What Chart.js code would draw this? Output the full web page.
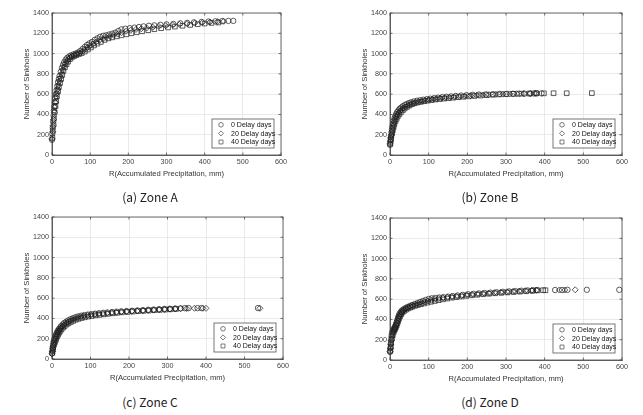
<!DOCTYPE html>
<html>
<head>
<meta charset="utf-8">
<script src="https://cdn.jsdelivr.net/npm/chart.js@4.4.1/dist/chart.umd.min.js"></script>
<style>
  html, body { margin: 0; padding: 0; background: #fff; overflow: hidden; }
  body { width: 643px; height: 415px; position: relative; }
  canvas { position: absolute; }
  .cap { position: absolute; width: 120px; margin-left: -60px; text-align: center;
         font: 12px "Noto Sans CJK KR", "Noto Sans", sans-serif; color: #222; line-height: 14px; }
</style>
</head>
<body>
<canvas id="zoneA"></canvas>
<canvas id="zoneB"></canvas>
<canvas id="zoneC"></canvas>
<canvas id="zoneD"></canvas>
<div class="cap" style="left:150px; top:190px;">(a) Zone A</div>
<div class="cap" style="left:490px; top:190px;">(b) Zone B</div>
<div class="cap" style="left:150px; top:395px;">(c) Zone C</div>
<div class="cap" style="left:490px; top:395px;">(d) Zone D</div>
<script>
// Series labels and axis ticks
const seriesLabels = ['0 Delay days', '20 Delay days', '40 Delay days'];
const xTicks = [0, 100, 200, 300, 400, 500, 600];
const yTicks = [0, 200, 400, 600, 800, 1000, 1200, 1400];

// Zone A  [R (mm), number of sinkholes]
const zoneA_d0 = [[0,150],[1,210],[2,270],[3,330],[4,390],[5,440],[6,480],[7,520],[8,560],[10,600],[12,640],[14,680],[16,720],[18,750],[20,780],[23,820],[26,860],[29,890],[32,915],[36,940],[40,958],[45,972],[50,982],[56,992],[62,1000],[68,1010],[74,1025],[80,1045],[86,1065],[92,1085],[98,1100],[105,1115],[112,1135],[119,1150],[126,1165],[134,1175],[142,1180],[150,1188],[158,1196],[166,1206],[174,1222],[182,1238],[192,1245],[204,1250],[216,1256],[228,1262],[240,1268],[254,1274],[268,1278],[284,1284],[300,1288],[318,1292],[336,1298],[354,1303],[372,1308],[392,1312],[410,1316],[428,1318],[446,1320],[462,1322],[475,1322]];
const zoneA_d20 = [[0,160],[2,230],[3,290],[4,350],[6,420],[7,470],[9,520],[11,570],[13,610],[15,650],[17,690],[20,730],[22,765],[25,800],[28,840],[31,870],[35,900],[39,925],[43,945],[48,962],[53,975],[59,985],[65,995],[72,1005],[79,1020],[86,1040],[93,1060],[100,1078],[108,1095],[116,1115],[124,1130],[133,1145],[142,1160],[152,1170],[162,1180],[172,1192],[182,1205],[194,1220],[206,1230],[220,1238],[234,1245],[248,1252],[264,1260],[280,1268],[298,1275],[316,1282],[334,1288],[354,1294],[374,1300],[394,1306],[414,1311],[434,1315],[450,1318]];
const zoneA_d40 = [[1,170],[2,240],[4,300],[5,360],[7,420],[9,480],[11,530],[13,580],[16,630],[18,670],[21,710],[24,750],[27,790],[30,830],[34,865],[38,895],[42,920],[47,945],[52,962],[58,975],[64,985],[71,995],[78,1005],[86,1020],[94,1040],[102,1060],[110,1080],[119,1098],[128,1115],[138,1135],[148,1150],[158,1160],[170,1170],[182,1180],[195,1190],[208,1200],[222,1210],[236,1220],[252,1230],[268,1240],[286,1250],[304,1258],[322,1266],[342,1274],[362,1282],[382,1290],[400,1296],[418,1302],[436,1306]];

// Zone B
const zoneB_d0 = [[0,100],[1,130],[2,160],[3,190],[4,220],[5,250],[6,280],[8,310],[10,340],[12,365],[14,385],[16,405],[19,425],[22,440],[25,455],[29,468],[33,480],[38,492],[43,502],[49,512],[55,520],[62,528],[70,535],[78,540],[86,545],[95,550],[104,555],[114,560],[124,565],[135,570],[146,574],[158,578],[170,582],[184,586],[198,590],[214,593],[230,596],[248,598],[266,600],[284,602],[302,603],[318,604],[334,604],[348,605],[362,606],[372,607],[380,608],[392,608]];
const zoneB_d20 = [[0,110],[1,140],[2,170],[4,200],[5,235],[7,265],[9,295],[11,325],[13,350],[16,375],[19,395],[22,415],[26,432],[30,448],[35,462],[40,475],[46,488],[52,498],[59,508],[66,517],[74,525],[82,532],[91,538],[100,544],[110,549],[120,554],[131,559],[142,564],[154,568],[166,573],[179,577],[193,581],[208,585],[224,589],[240,592],[256,595],[274,598],[292,600],[310,602],[328,604],[346,605],[364,606],[376,608]];
const zoneB_d40 = [[1,110],[2,150],[3,180],[5,210],[7,240],[9,270],[11,300],[14,330],[17,355],[20,380],[24,400],[28,420],[33,440],[38,458],[44,474],[50,488],[57,500],[64,510],[72,518],[80,524],[89,530],[98,536],[108,542],[118,547],[129,552],[140,556],[152,560],[164,565],[177,570],[190,574],[204,578],[218,582],[234,586],[250,590],[266,594],[282,597],[300,600],[320,603],[340,605],[360,606],[378,608],[398,608],[423,609],[457,609],[522,610]];

// Zone C
const zoneC_d0 = [[0,55],[1,80],[2,110],[3,140],[4,165],[5,185],[7,205],[9,225],[11,245],[13,262],[15,278],[18,295],[21,310],[24,325],[28,340],[32,355],[37,368],[42,380],[48,392],[54,402],[61,412],[68,420],[76,427],[84,433],[93,438],[102,443],[112,447],[122,451],[133,455],[144,459],[156,463],[168,467],[180,470],[194,473],[208,476],[222,479],[236,482],[250,485],[264,488],[278,491],[292,494],[306,496],[320,498],[334,500],[345,501],[355,502],[378,502],[388,502],[535,502]];
const zoneC_d20 = [[0,50],[1,75],[2,100],[3,125],[5,150],[6,175],[8,195],[10,215],[12,235],[15,255],[17,272],[20,290],[23,305],[27,320],[31,335],[36,350],[41,363],[47,376],[53,388],[60,398],[67,408],[75,416],[83,423],[92,429],[101,435],[111,440],[121,444],[132,448],[143,452],[155,456],[167,460],[180,464],[193,467],[207,470],[221,473],[236,476],[250,479],[264,482],[278,485],[292,488],[306,491],[320,494],[334,496],[350,498],[370,500],[392,500],[400,500],[540,500]];
const zoneC_d40 = [[1,60],[2,90],[3,115],[5,140],[7,160],[9,180],[11,200],[13,220],[16,240],[19,260],[22,278],[25,295],[29,310],[33,325],[38,340],[43,352],[49,365],[55,376],[62,387],[69,396],[77,404],[85,411],[94,418],[103,424],[113,430],[123,435],[134,440],[145,445],[157,450],[169,455],[182,460],[196,464],[210,468],[224,472],[238,475],[252,478],[266,481],[280,484],[294,487],[308,490],[322,493]];

// Zone D
const zoneD_d0 = [[0,80],[1,120],[2,160],[3,200],[4,235],[5,262],[7,285],[9,300],[11,315],[13,330],[15,350],[17,370],[19,395],[21,420],[23,440],[25,458],[28,475],[31,488],[35,500],[40,512],[45,522],[51,532],[57,542],[64,552],[71,562],[78,572],[85,582],[92,592],[100,602],[108,608],[117,612],[127,616],[138,620],[150,625],[162,630],[175,636],[188,642],[202,648],[216,652],[230,656],[245,660],[260,664],[276,668],[292,672],[308,676],[324,680],[340,683],[356,686],[370,688],[380,690],[427,690],[445,690],[459,692],[509,692],[593,692]];
const zoneD_d20 = [[0,85],[1,110],[2,150],[3,190],[5,225],[6,255],[8,278],[10,295],[12,310],[14,325],[16,345],[18,365],[20,388],[22,412],[24,432],[27,452],[30,470],[33,484],[37,496],[42,508],[48,518],[54,528],[60,537],[67,546],[74,555],[82,564],[90,573],[98,582],[107,590],[116,598],[126,605],[137,612],[148,618],[160,624],[172,630],[185,636],[198,642],[212,647],[226,652],[240,656],[255,660],[270,664],[286,668],[302,672],[318,676],[334,680],[350,683],[366,686],[378,688],[438,690],[452,690],[479,692]];
const zoneD_d40 = [[1,90],[2,130],[3,170],[5,210],[7,245],[9,270],[11,290],[13,305],[15,320],[17,340],[19,360],[21,382],[23,405],[26,428],[29,450],[32,468],[36,482],[41,495],[46,506],[52,516],[58,525],[65,534],[72,542],[80,550],[88,558],[97,566],[106,574],[116,582],[126,590],[137,598],[148,606],[160,614],[172,620],[185,626],[198,632],[212,638],[226,643],[241,648],[256,653],[272,658],[288,662],[304,666],[320,670],[336,674],[352,678],[368,682],[382,686],[396,688],[402,688]];

// Panel geometry: plot-area left/top/width/height on the page
const panels = [
    { id: 'zoneA', left: 52, top: 13, w: 229, h: 142, series: [zoneA_d0, zoneA_d20, zoneA_d40] },
    { id: 'zoneB', left: 390, top: 13, w: 232, h: 142, series: [zoneB_d0, zoneB_d20, zoneB_d40] },
    { id: 'zoneC', left: 52, top: 217, w: 231, h: 142, series: [zoneC_d0, zoneC_d20, zoneC_d40] },
    { id: 'zoneD', left: 390, top: 218, w: 232, h: 142, series: [zoneD_d0, zoneD_d20, zoneD_d40] }
];

const yAxisW = 34, xAxisH = 30, padTop = 13, padRight = 20;
const markColor = 'rgba(30,30,30,0.9)';
const markers = [
    { style: 'circle', radius: 2.7 },
    { style: 'rectRot', radius: 3.0 },
    { style: 'rect', radius: 3.3 }
];
const tickFont = { family: 'Liberation Sans, Arial, sans-serif', size: 7.2 };
const titleFont = { family: 'Liberation Sans, Arial, sans-serif', size: 7.6 };

function drawMarker(ctx, style, radius, x, y) {
    if (Chart.helpers && Chart.helpers.drawPoint) {
        Chart.helpers.drawPoint(ctx, { pointStyle: style, radius: radius, rotation: 0, borderWidth: 0.8 }, x, y);
        return;
    }
    ctx.beginPath();
    ctx.arc(x, y, radius, 0, Math.PI * 2);
    ctx.stroke();
}

// MATLAB-like box, inward ticks and legend inside the plot area
const boxPlugin = {
    id: 'boxPlugin',
    afterDraw(chart) {
        const ctx = chart.ctx;
        const a = chart.chartArea;
        const xs = chart.scales.x, ys = chart.scales.y;
        ctx.save();
        ctx.strokeStyle = '#4a4a4a';
        ctx.lineWidth = 0.8;
        ctx.strokeRect(a.left, a.top, a.right - a.left, a.bottom - a.top);
        ctx.beginPath();
        xTicks.forEach(v => {
            const px = xs.getPixelForValue(v);
            ctx.moveTo(px, a.bottom); ctx.lineTo(px, a.bottom - 2.5);
            ctx.moveTo(px, a.top); ctx.lineTo(px, a.top + 2.5);
        });
        yTicks.forEach(v => {
            const py = ys.getPixelForValue(v);
            ctx.moveTo(a.left, py); ctx.lineTo(a.left + 2.5, py);
            ctx.moveTo(a.right, py); ctx.lineTo(a.right - 2.5, py);
        });
        ctx.stroke();

        // legend
        const lw = 62, lh = 29;
        const lx = a.right - 7 - lw, ly = a.bottom - 7 - lh;
        ctx.fillStyle = '#fff';
        ctx.fillRect(lx, ly, lw, lh);
        ctx.strokeStyle = '#555';
        ctx.strokeRect(lx, ly, lw, lh);
        ctx.font = '7px "Liberation Sans", Arial, sans-serif';
        ctx.textBaseline = 'middle';
        chart.data.datasets.forEach((ds, i) => {
            const ry = ly + 5.8 + i * 8.6;
            ctx.strokeStyle = '#444';
            ctx.lineWidth = 0.7;
            ctx.fillStyle = 'rgba(0,0,0,0)';
            drawMarker(ctx, markers[i].style, markers[i].radius * 0.85, lx + 9, ry);
            ctx.fillStyle = '#111';
            ctx.fillText(ds.label, lx + 19, ry + 0.5);
        });
        ctx.restore();
    }
};

panels.forEach(p => {
    const canvas = document.getElementById(p.id);
    const cw = yAxisW + p.w + padRight;
    const ch = padTop + p.h + xAxisH;
    canvas.width = cw;
    canvas.height = ch;
    canvas.style.left = (p.left - yAxisW) + 'px';
    canvas.style.top = (p.top - padTop) + 'px';
    canvas.style.width = cw + 'px';
    canvas.style.height = ch + 'px';

    const datasets = p.series.map((pts, i) => ({
        label: seriesLabels[i],
        data: pts.map(pt => ({ x: pt[0], y: pt[1] })),
        pointStyle: markers[i].style,
        pointRadius: markers[i].radius,
        pointBorderWidth: 0.8,
        pointBorderColor: markColor,
        pointBackgroundColor: 'rgba(0,0,0,0)',
        showLine: false,
        clip: false
    }));

    new Chart(canvas.getContext('2d'), {
        type: 'scatter',
        data: { datasets: datasets },
        options: {
            responsive: false,
            animation: false,
            events: [],
            layout: { padding: { left: 0, top: padTop, right: padRight, bottom: 0 } },
            plugins: {
                legend: { display: false },
                tooltip: { enabled: false }
            },
            scales: {
                x: {
                    type: 'linear',
                    min: 0,
                    max: 600,
                    afterFit: s => { s.height = xAxisH; },
                    afterBuildTicks: s => { s.ticks = xTicks.map(v => ({ value: v })); },
                    grid: { color: '#e4e4e4', lineWidth: 0.8, drawTicks: false },
                    border: { display: true, color: '#4a4a4a', width: 0.8 },
                    ticks: { font: tickFont, color: '#444', padding: 3, maxRotation: 0, callback: v => String(v) },
                    title: {
                        display: true,
                        text: 'R(Accumulated Precipitation, mm)',
                        font: titleFont,
                        color: '#333',
                        padding: { top: 0, bottom: 7 }
                    }
                },
                y: {
                    type: 'linear',
                    min: 0,
                    max: 1400,
                    afterFit: s => { s.width = yAxisW; },
                    afterBuildTicks: s => { s.ticks = yTicks.map(v => ({ value: v })); },
                    grid: { color: '#e4e4e4', lineWidth: 0.8, drawTicks: false },
                    border: { display: true, color: '#4a4a4a', width: 0.8 },
                    ticks: { font: tickFont, color: '#444', padding: 3, callback: v => String(v) },
                    title: {
                        display: true,
                        text: 'Number of Sinkholes',
                        font: titleFont,
                        color: '#333',
                        padding: { top: 4, bottom: 0 }
                    }
                }
            }
        },
        plugins: [boxPlugin]
    });
});
</script>
</body>
</html>
